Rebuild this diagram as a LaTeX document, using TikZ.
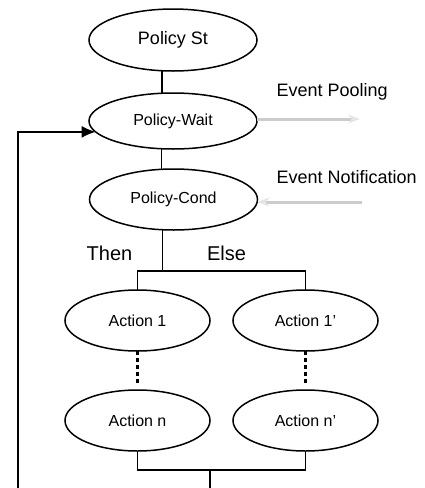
\documentclass[tikz,border=0pt]{standalone}
\usepackage{fontspec}
\setmainfont{Liberation Sans}
\usetikzlibrary{shapes.geometric, arrows.meta}

\begin{document}
\begin{tikzpicture}[x = 1pt, y = -1pt, > = {Latex[length = 14pt, width = 12pt]},
	stage/.style = {draw, ellipse, line width = 1.5pt, inner sep = 0pt, outer sep = 0pt, font = \fontsize{16}{18}\selectfont},
	policy/.style = {stage, minimum width = 168pt},
	action/.style = {stage, minimum width = 145pt, minimum height = 61pt},
	link/.style = {line width = 1.4pt},
	dots/.style = {line width = 3.5pt, dash pattern = on 4pt off 3pt, shorten > = 5pt},
	event/.style = {line width = 3pt, draw = black!20, -{Stealth[length = 12pt, width = 9pt, color = black!10]}},
	note/.style = {font = \fontsize{18}{20}\selectfont}]

	% Frame
	
	\clip (0, 0) rectangle (425, 488);
	
	% Policy states
	
	\node [policy, minimum height = 62pt, font = \fontsize{18}{20}\selectfont] (ps) at (173, 40) {Policy St};
	\node [policy, minimum height = 56pt] (pw) at (173, 121) {Policy-Wait};
	\node [policy, minimum height = 61pt] (pc) at (173.5, 199.5) {Policy-Cond};
	
	\draw [link] (ps.250) -- (ps.250 |- pw.north);
	\draw [link] (pw.248) -- (pw.248 |- pc.north);
	
	% Events
	
	\coordinate (pool) at (360, 119);
	\coordinate (notify) at (362, 202);
	
	\draw [event] (pw.east |- pool) -- (pool);
	\draw [event] (notify) -- (notify -| pc.east);
	
	\node [note, anchor = west] (pooltxt) at (273, 92) {Event Pooling};
	\node [note, anchor = west] (notifytxt) at (273, 177) {Event Notification};
	
	% Branches
	
	\node [note, font = \fontsize{20}{22}\selectfont] (then) at (109.5, 253) {Then};
	\node [note, font = \fontsize{20}{22}\selectfont] (else) at (226.5, 253) {Else};
	
	\node [action] (a1) at (137.5, 320.5) {Action 1};
	\node [action] (a1p) at (305.5, 320.5) {Action 1'};
	\node [action] (an) at (137.5, 420.5) {Action n};
	\node [action] (anp) at (305.5, 420.5) {Action n'};
	
	\coordinate (split) at (162, 271);
	\coordinate (merge) at (210, 470);
	\coordinate (loop) at (18, 500);
	
	\draw [link] (pc.250) -- (pc.250 |- split);
	\draw [link] (a1.north) |- (split) -| (a1p.north);
	
	\draw [dots] (a1) -- (an);
	\draw [dots] (a1p) -- (anp);
	
	% Loop back
	
	\draw [link] (an.south) |- (merge) -| (anp.south);
	\draw [link, ->] (merge) |- (loop) |- (pw.188);

\end{tikzpicture}
\end{document}
